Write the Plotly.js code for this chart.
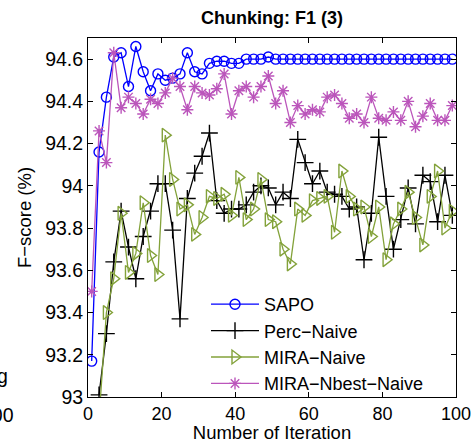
<!DOCTYPE html>
<html>
<head>
<meta charset="utf-8">
<script src="https://cdn.plot.ly/plotly-3.0.1.min.js"></script>
<style>html,body{margin:0;padding:0;background:#fff;}#chart{width:472px;height:443px;}</style>
</head>
<body>
<div id="chart"></div>
<script>
// Iterations (odd numbers)
const iterAll = [1,3,5,7,9,11,13,15,17,19,21,23,25,27,29,31,33,35,37,39,41,43,45,47,49,
                 51,53,55,57,59,61,63,65,67,69,71,73,75,77,79,81,83,85,87,89,91,93,95,97,99];
const iterFrom3 = iterAll.slice(1);

const sapo = [93.17,94.16,94.42,94.61,94.63,94.47,94.66,94.54,94.45,94.53,94.50,94.51,94.53,94.63,94.54,94.53,94.58,94.59,94.59,94.58,94.58,94.60,94.60,94.60,94.61,
              94.60,94.60,94.60,94.60,94.60,94.60,94.60,94.60,94.60,94.60,94.60,94.60,94.60,94.60,94.60,94.60,94.60,94.60,94.60,94.60,94.60,94.60,94.60,94.60,94.60];

const percNaive = [93.01,93.30,93.64,93.88,93.71,93.56,93.76,93.88,94.01,94.01,93.79,93.37,93.94,94.06,94.14,94.25,93.93,93.87,93.89,93.89,93.91,93.97,94.00,93.99,
                   93.91,93.97,93.94,94.22,94.11,94.01,94.07,93.97,93.96,93.95,93.89,93.90,93.65,93.87,94.23,93.95,93.70,93.84,93.99,93.82,94.05,94.02,93.83,94.05,93.86];

const miraNaive = [92.90,93.40,93.56,93.87,93.59,93.68,93.92,93.67,93.58,94.24,94.03,93.89,93.91,93.77,93.85,93.95,93.94,93.96,93.86,94.04,93.84,93.89,94.03,93.84,
                   93.83,93.70,93.63,93.89,93.86,93.93,93.94,93.95,93.78,94.07,93.95,93.89,93.90,93.76,93.90,93.65,93.82,93.89,93.97,93.85,93.72,93.95,94.07,93.80,93.88];

const miraNbest = [93.50,94.26,94.11,94.63,94.37,94.42,94.39,94.34,94.41,94.39,94.44,94.51,94.47,94.36,94.47,94.44,94.43,94.46,94.53,94.34,94.45,94.47,94.42,94.47,94.52,
                   94.39,94.45,94.30,94.38,94.34,94.36,94.35,94.42,94.43,94.39,94.32,94.34,94.30,94.42,94.32,94.31,94.35,94.31,94.40,94.28,94.33,94.39,94.31,94.31,94.38];

const xTicks = [0,20,40,60,80,100];
const yTicks = [93,93.2,93.4,93.6,93.8,94,94.2,94.4,94.6];

const FONT = 'Liberation Sans, Arial, Helvetica, sans-serif';
const LW = 1.3;

const traces = [
  {x: iterAll, y: sapo, name: 'SAPO', mode: 'lines+markers',
   line: {color: '#0000FF', width: LW},
   marker: {symbol: 'circle-open', size: 10, color: '#0000FF', line: {width: 1.4, color: '#0000FF'}}},
  {x: iterFrom3, y: percNaive, name: 'Perc\u2212Naive', mode: 'lines+markers',
   line: {color: '#000000', width: LW},
   marker: {symbol: 'cross-thin-open', size: 12, color: '#000000', line: {width: 1.4, color: '#000000'}}},
  {x: iterFrom3, y: miraNaive, name: 'MIRA\u2212Naive', mode: 'lines+markers',
   line: {color: '#83A23A', width: LW},
   marker: {symbol: 'triangle-right-open', size: 12, color: '#83A23A', line: {width: 1.4, color: '#83A23A'}}},
  {x: iterAll, y: miraNbest, name: 'MIRA\u2212Nbest\u2212Naive', mode: 'lines+markers',
   line: {color: '#BB55BB', width: LW},
   marker: {symbol: 'asterisk-open', size: 10, color: '#BB55BB', line: {width: 1.4, color: '#BB55BB'}}}
];

const ML = 88, MR = 16, MT = 38, MB = 46;
const PW = 472 - ML - MR, PH = 443 - MT - MB;
const px2paperX = p => (p - ML) / PW;
const py2paperY = p => (443 - MB - p) / PH;

const layout = {
  width: 472, height: 443,
  margin: {l: ML, r: MR, t: MT, b: MB, pad: 0},
  paper_bgcolor: '#ffffff', plot_bgcolor: '#ffffff',
  font: {family: FONT, size: 18, color: '#000000'},
  title: {text: '<b>Chunking: F1 (3)</b>', x: 0.5, xref: 'paper', xanchor: 'center',
          y: 1 - 18/443, yref: 'container', yanchor: 'middle',
          font: {family: FONT, size: 18, color: '#000000'}},
  showlegend: true,
  legend: {x: px2paperX(206), xanchor: 'left', y: py2paperY(286), yanchor: 'top',
           bgcolor: 'rgba(255,255,255,0)', borderwidth: 0, itemwidth: 48,
           font: {family: FONT, size: 18, color: '#000000'}, tracegroupgap: 0},
  xaxis: {range: [0, 100], tickvals: xTicks, ticks: 'inside', ticklen: 5, tickcolor: '#000',
          showline: true, linecolor: '#000', linewidth: 1, mirror: 'ticks', showgrid: false, zeroline: false,
          ticklabeloverflow: 'allow',
          tickfont: {family: FONT, size: 18}, title: {text: 'Number of Iteration', standoff: 2, font: {family: FONT, size: 18.5}}},
  yaxis: {range: [93, 94.7], tickvals: yTicks, ticks: 'inside', ticklen: 5, tickcolor: '#000',
          showline: true, linecolor: '#000', linewidth: 1, mirror: 'ticks', showgrid: false, zeroline: false,
          tickfont: {family: FONT, size: 19.5}, title: {text: 'F\u2212score (%)', standoff: 8, font: {family: FONT, size: 18.5}}},
  annotations: [
    {xref: 'paper', yref: 'paper', x: px2paperX(10), y: py2paperY(376), xanchor: 'right', yanchor: 'middle',
     text: 'g', showarrow: false, font: {family: FONT, size: 19.5, color: '#000'}},
    {xref: 'paper', yref: 'paper', x: px2paperX(16), y: py2paperY(415), xanchor: 'right', yanchor: 'middle',
     text: '100', showarrow: false, font: {family: FONT, size: 19.5, color: '#000'}}
  ]
};

Plotly.newPlot('chart', traces, layout, {staticPlot: true, displayModeBar: false});
</script>
</body>
</html>
